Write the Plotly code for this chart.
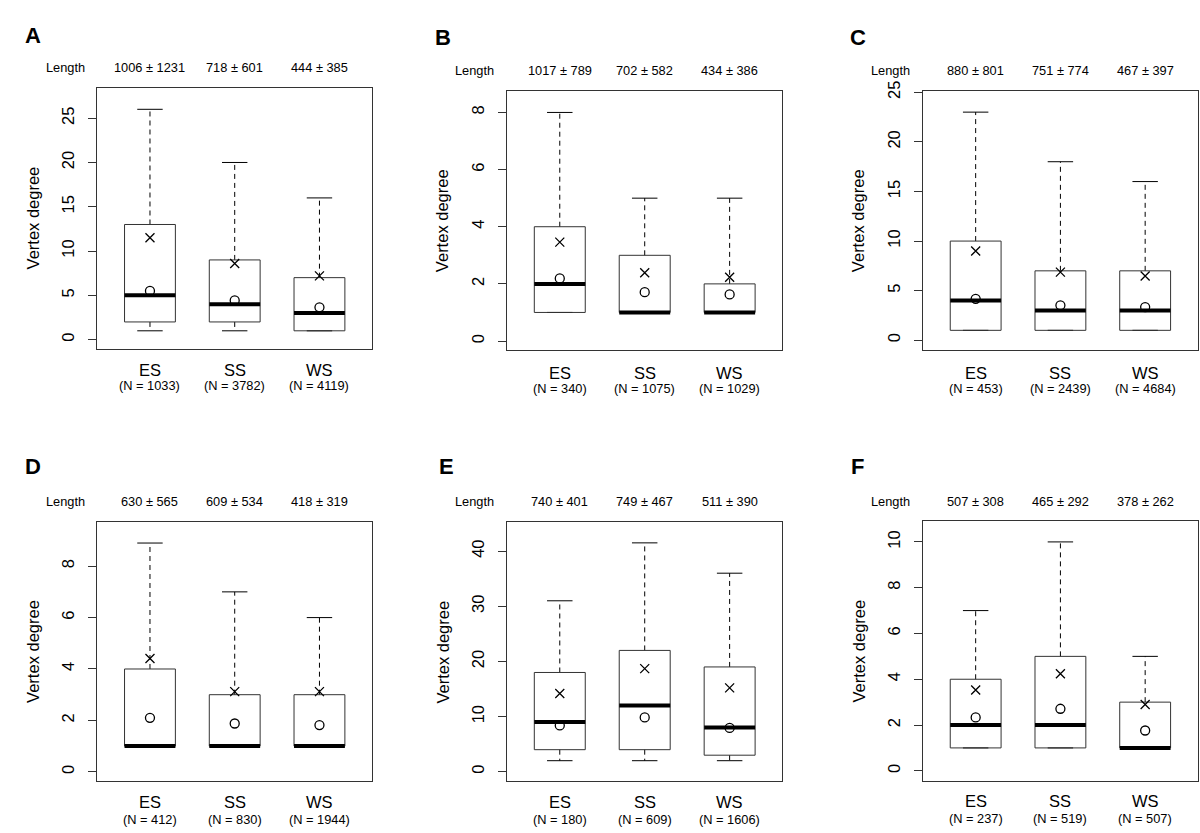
import plotly.graph_objects as go

W, H = 1200, 833

# ---------------- data ----------------
panel_letters = ["A", "B", "C", "D", "E", "F"]
groups = ["ES", "SS", "WS"]

lower_whisker = [[1, 1, 1], [1, 1, 1], [1, 1, 1], [1, 1, 1], [2, 2, 2], [1, 1, 1]]
q1_vals = [[2, 2, 1], [1, 1, 1], [1, 1, 1], [1, 1, 1], [4, 4, 3], [1, 1, 1]]
median_vals = [[5, 4, 3], [2, 1, 1], [4, 3, 3], [1, 1, 1], [9, 12, 8], [2, 2, 1]]
q3_vals = [[13, 9, 7], [4, 3, 2], [10, 7, 7], [4, 3, 3], [18, 22, 19], [4, 5, 3]]
upper_whisker = [[26, 20, 16], [8, 5, 5], [23, 18, 16], [8.9, 7, 6], [31, 41.5, 36], [7, 10, 5]]
cross_vals = [[11.5, 8.6, 7.2], [3.46, 2.39, 2.23], [9.0, 6.87, 6.47],
              [4.41, 3.12, 3.12], [14.2, 18.7, 15.2], [3.53, 4.24, 2.9]]
circle_vals = [[5.5, 4.43, 3.65], [2.19, 1.71, 1.63], [4.18, 3.52, 3.35],
               [2.1, 1.88, 1.82], [8.4, 9.85, 7.94], [2.33, 2.71, 1.76]]
length_labels = [
    ["1006 ± 1231", "718 ± 601", "444 ± 385"],
    ["1017 ± 789", "702 ± 582", "434 ± 386"],
    ["880 ± 801", "751 ± 774", "467 ± 397"],
    ["630 ± 565", "609 ± 534", "418 ± 319"],
    ["740 ± 401", "749 ± 467", "511 ± 390"],
    ["507 ± 308", "465 ± 292", "378 ± 262"],
]
n_counts = [[1033, 3782, 4119], [340, 1075, 1029], [453, 2439, 4684],
            [412, 830, 1944], [180, 609, 1606], [237, 519, 507]]
y_ticks = [[0, 5, 10, 15, 20, 25], [0, 2, 4, 6, 8], [0, 5, 10, 15, 20, 25],
           [0, 2, 4, 6, 8], [0, 10, 20, 30, 40], [0, 2, 4, 6, 8, 10]]
y_ranges = [[-1.04, 28.4], [-0.32, 8.76], [-1.0, 25.16],
            [-0.37, 9.7], [-1.74, 45.2], [-0.43, 10.91]]
X_RANGE = [0.375, 3.62]

# ---------------- layout geometry (pixels) ----------------
frames = [(97, 372, 79, 343), (506.7, 782.3, 81.7, 344.3), (922.7, 1197.7, 81.7, 344.3),
          (97, 372, 518.7, 780.7), (506.7, 782.3, 518.7, 780.7), (922.7, 1197.7, 517.3, 780)]
letter_pos = [(23, 26), (433, 28), (848, 28), (23, 462), (437, 462), (849, 462)]
length_y = [58, 61, 61, 497, 497, 497]
group_y = [364, 367, 367, 801.5, 801.5, 801]
n_y = [380, 383, 383, 819, 819, 818]

FONT = "Liberation Sans, Arial, Helvetica, sans-serif"
LINE = "#333333"
HALF = 0.3
CAP = 0.15

def px(x):
    return x / W

def py(y):
    return 1 - y / H

fig = go.Figure()
layout = dict(width=W, height=H, margin=dict(l=0, r=0, t=0, b=0),
              paper_bgcolor="white", plot_bgcolor="white", showlegend=False,
              font=dict(family=FONT, color="black"))
annotations = []

for i in range(6):
    k = i + 1
    xs = "x" if k == 1 else f"x{k}"
    ys = "y" if k == 1 else f"y{k}"
    x0, x1, y0, y1 = frames[i]
    layout["xaxis" if k == 1 else f"xaxis{k}"] = dict(
        domain=[px(x0), px(x1)], range=X_RANGE, anchor=ys,
        showline=True, mirror=True, linecolor=LINE, linewidth=1,
        showticklabels=False, ticks="", showgrid=False, zeroline=False, fixedrange=True)
    layout["yaxis" if k == 1 else f"yaxis{k}"] = dict(
        domain=[py(y1), py(y0)], range=y_ranges[i], anchor=xs,
        showline=True, mirror=True, linecolor=LINE, linewidth=1,
        tickmode="array", tickvals=y_ticks[i], ticktext=[str(t) for t in y_ticks[i]],
        tickangle=-90, ticks="outside", ticklen=8, tickcolor=LINE, tickwidth=1,
        ticklabelstandoff=7,
        tickfont=dict(size=16.5, family=FONT, color="black"),
        showgrid=False, zeroline=False, fixedrange=True)

    cx = [1, 2, 3]
    # whiskers (dashed)
    wx, wy = [], []
    for j, c in enumerate(cx):
        wx += [c, c, None, c, c, None]
        wy += [q3_vals[i][j], upper_whisker[i][j], None, q1_vals[i][j], lower_whisker[i][j], None]
    fig.add_trace(go.Scatter(x=wx, y=wy, xaxis=xs, yaxis=ys, mode="lines",
                             line=dict(color="black", width=1, dash="5px,4px"), hoverinfo="skip"))
    # caps
    cxs, cys = [], []
    for j, c in enumerate(cx):
        cxs += [c - CAP, c + CAP, None, c - CAP, c + CAP, None]
        cys += [upper_whisker[i][j]] * 2 + [None] + [lower_whisker[i][j]] * 2 + [None]
    fig.add_trace(go.Scatter(x=cxs, y=cys, xaxis=xs, yaxis=ys, mode="lines",
                             line=dict(color="black", width=1), hoverinfo="skip"))
    # boxes
    bx, by = [], []
    for j, c in enumerate(cx):
        bx += [c - HALF, c + HALF, c + HALF, c - HALF, c - HALF, None]
        by += [q1_vals[i][j], q1_vals[i][j], q3_vals[i][j], q3_vals[i][j], q1_vals[i][j], None]
    fig.add_trace(go.Scatter(x=bx, y=by, xaxis=xs, yaxis=ys, mode="lines",
                             line=dict(color=LINE, width=1), hoverinfo="skip"))
    # medians
    mx, my = [], []
    for j, c in enumerate(cx):
        mx += [c - HALF, c + HALF, None]
        my += [median_vals[i][j]] * 2 + [None]
    fig.add_trace(go.Scatter(x=mx, y=my, xaxis=xs, yaxis=ys, mode="lines",
                             line=dict(color="black", width=4), hoverinfo="skip"))
    # cross markers
    fig.add_trace(go.Scatter(x=cx, y=cross_vals[i], xaxis=xs, yaxis=ys, mode="markers",
                             marker=dict(symbol="x-thin-open", size=9, color="black",
                                         line=dict(color="black", width=1.3)),
                             hoverinfo="skip"))
    # circle markers
    fig.add_trace(go.Scatter(x=cx, y=circle_vals[i], xaxis=xs, yaxis=ys, mode="markers",
                             marker=dict(symbol="circle-open", size=9, color="black",
                                         line=dict(color="black", width=1.3)),
                             hoverinfo="skip"))

    # panel letter
    lx, ly = letter_pos[i]
    annotations.append(dict(text=f"<b>{panel_letters[i]}</b>", xref="paper", yref="paper",
                            x=px(lx), y=py(ly), xanchor="left", yanchor="middle",
                            showarrow=False, font=dict(size=22, family=FONT, color="black")))
    # "Length" sits one category step left of the first group
    ppu = (x1 - x0) / (X_RANGE[1] - X_RANGE[0])
    length_x = x0 + (0 - X_RANGE[0]) * ppu
    annotations.append(dict(text="Length", xref="paper", yref="paper", x=px(length_x),
                            y=py(length_y[i]), xanchor="center", yanchor="middle",
                            showarrow=False, font=dict(size=12.8, family=FONT, color="black")))
    for j, c in enumerate(cx):
        annotations.append(dict(text=length_labels[i][j], xref=xs, yref="paper", x=c,
                                y=py(length_y[i]), xanchor="center", yanchor="middle",
                                showarrow=False, font=dict(size=12.8, family=FONT, color="black")))
        annotations.append(dict(text=groups[j], xref=xs, yref="paper", x=c,
                                y=py(group_y[i]), xanchor="center", yanchor="middle",
                                showarrow=False, font=dict(size=16.5, family=FONT, color="black")))
        annotations.append(dict(text=f"(N = {n_counts[i][j]})", xref=xs, yref="paper", x=c,
                                y=py(n_y[i]), xanchor="center", yanchor="middle",
                                showarrow=False, font=dict(size=12.8, family=FONT, color="black")))
    # y axis title
    annotations.append(dict(text="Vertex degree", xref="paper", yref="paper",
                            x=px(x0 - 64), y=py((y0 + y1) / 2), xanchor="center", yanchor="middle",
                            textangle=-90, showarrow=False,
                            font=dict(size=16.5, family=FONT, color="black")))

layout["annotations"] = annotations
fig.update_layout(**layout)
fig.write_html("out.html", config={"displayModeBar": False},
               post_script="document.body.style.margin='0';document.body.style.overflow='hidden';")
